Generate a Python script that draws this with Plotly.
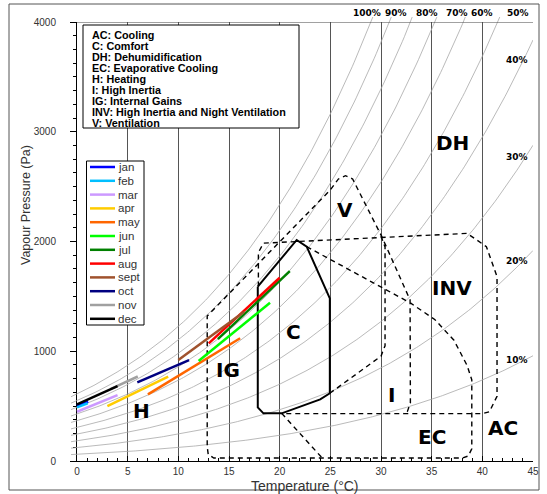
import numpy as np
import plotly.graph_objects as go

# ---------------- data ----------------
x_ticks = [0, 5, 10, 15, 20, 25, 30, 35, 40, 45]
y_ticks = [0, 1000, 2000, 3000, 4000]
rh_levels = [10, 20, 30, 40, 50, 60, 70, 80, 90, 100]
rh_curve_t = list(np.linspace(-0.6, 45, 231))

months = ["jan", "feb", "mar", "apr", "may", "jun", "jul", "aug", "sept", "oct", "nov", "dec"]
month_t0 = [0.0, 0.0, 0.0, 3.0, 7.0, 12.0, 13.9, 13.0, 10.0, 5.95, 3.3, 0.0]
month_p0 = [505, 489, 449, 501, 607, 911, 1110, 1072, 920, 717, 655, 516]
month_t1 = [1.1, 1.05, 4.0, 9.0, 16.1, 19.05, 21.0, 20.0, 16.5, 11.06, 6.0, 4.0]
month_p1 = [540, 526, 601, 768, 1118, 1442, 1730, 1670, 1360, 920, 770, 683]
month_colors = ["#0000FF", "#00BFFF", "#CC99FF", "#FFCC00", "#FF6600", "#00FF00",
                "#008000", "#FF0000", "#A0522D", "#000080", "#A0A0A0", "#000000"]

# comfort zone (solid)
comfort_t = [17.84, 21.68, 22.67, 24.95, 24.95, 24.0, 20.2, 18.4, 17.84, 17.84]
comfort_p = [1588, 2014, 1953, 1482, 617, 562, 434, 434, 489, 1588]

# dashed outline: evaporative cooling / internal gains / ventilation / inertia
outer_t = [22.67, 27.0, 32.9, 35.3, 37.2, 38.5, 38.96, 38.96, 38.6, 38.0, 13.5, 12.95, 12.85,
           12.85, 25.0, 25.8, 26.5, 27.2, 30.08, 32.87, 32.9, 32.6, 32.2]
outer_p = [1953, 1735, 1440, 1290, 1100, 870, 740, 110, 45, 27, 27, 60, 130,
           1321, 2470, 2570, 2600, 2570, 2044, 1467, 530, 450, 432]
# EC lower-left diagonal
ec_t = [20.2, 24.2]
ec_p = [434, 27]
# ventilation / inertia inner boundary
vb_t = [30.0, 30.4, 30.4, 30.0, 24.95]
vb_p = [2050, 1950, 1050, 955, 617]
# high inertia & night ventilation
inv_t = [17.9, 17.9, 18.4, 38.5, 40.4, 41.45, 41.45, 40.7, 40.0, 20.2]
inv_p = [1590, 1900, 1985, 2074, 1953, 1680, 590, 449, 432, 432]

zone_labels = ["DH", "V", "INV", "C", "IG", "I", "H", "EC", "AC"]
zone_label_t = [37.1, 26.4, 37.0, 21.4, 14.9, 31.0, 6.4, 35.0, 42.0]
zone_label_p = [2900, 2287, 1576, 1172, 829, 600, 452, 215, 301]

zone_descr = ["AC: Cooling", "C: Comfort", "DH: Dehumidification", "EC: Evaporative Cooling",
              "H: Heating", "I: High Inertia", "IG: Internal Gains",
              "INV: High Inertia and Night Ventilation", "V: Ventilation"]

top_rh_labels = ["100%", "90%", "80%", "70%", "60%", "50%"]
top_rh_t = [28.6, 31.5, 34.5, 37.5, 40.0, 43.5]
right_rh_labels = ["40%", "30%", "20%", "10%"]
right_rh_p = [3654, 2770, 1822, 920]

# ---------------- layout geometry (pixels) ----------------
W, H = 547, 494
ML, MR, MT, MB = 71, 14, 17, 33
PW, PH = W - ML - MR, H - MT - MB          # 462 x 444
AX_L, AX_T = 77, 22                        # main axis left / top pixel
x_dom0 = (AX_L - ML) / PW
y_dom1 = (H - MB - AX_T) / PH
px_per_t = (PW - (AX_L - ML)) / 45.0
x2_min = -(AX_L - ML) / px_per_t
y2_max = 4000 * PH / (H - MB - AX_T)


def px2paper_x(px):
    return (px - ML) / PW


def px2paper_y(py):
    return (H - MB - py) / PH


FONT = "Liberation Sans, Arial, sans-serif"
WIDE = "DejaVu Sans, Liberation Sans, sans-serif"

fig = go.Figure()

# anchor trace for main axes
fig.add_trace(go.Scatter(x=[0, 45], y=[0, 4000], mode="markers", marker=dict(opacity=0),
                         hoverinfo="skip", showlegend=False))


def psat(t):
    t = np.asarray(t, dtype=float)
    return 610.94 * np.exp(17.625 * t / (t + 243.04))


for rh in rh_levels:
    fig.add_trace(go.Scatter(x=rh_curve_t, y=list(rh / 100.0 * psat(rh_curve_t)), mode="lines",
                             line=dict(color="#A8A8A8", width=0.8), xaxis="x2", yaxis="y2",
                             hoverinfo="skip", showlegend=False))

DASH = dict(color="black", width=1.4, dash="5px,4px")
for tx, py in [(outer_t, outer_p), (ec_t, ec_p), (vb_t, vb_p), (inv_t, inv_p)]:
    fig.add_trace(go.Scatter(x=tx, y=py, mode="lines", line=DASH, xaxis="x2", yaxis="y2",
                             hoverinfo="skip", showlegend=False))

fig.add_trace(go.Scatter(x=comfort_t, y=comfort_p, mode="lines",
                         line=dict(color="black", width=2), xaxis="x2", yaxis="y2",
                         hoverinfo="skip", showlegend=False))

for i, m in enumerate(months):
    fig.add_trace(go.Scatter(x=[month_t0[i], month_t1[i]], y=[month_p0[i], month_p1[i]],
                             mode="lines", name=m, line=dict(color=month_colors[i], width=2.5),
                             xaxis="x2", yaxis="y2", showlegend=False))

annotations = []
shapes = []


def ann(**kw):
    base = dict(showarrow=False, xanchor="center", yanchor="middle", borderpad=0)
    base.update(kw)
    annotations.append(base)


# zone labels
for lab, t, p in zip(zone_labels, zone_label_t, zone_label_p):
    ann(x=t, y=p, xref="x", yref="y", text=lab,
        font=dict(family=WIDE, size=20, color="black", weight="bold"))

# RH labels
for lab, t in zip(top_rh_labels, top_rh_t):
    ann(x=t, y=px2paper_y(13), xref="x", yref="paper", text=lab,
        font=dict(family=WIDE, size=9, color="black", weight="bold"))
for lab, p in zip(right_rh_labels, right_rh_p):
    ann(x=43.4, y=p, xref="x", yref="y", text=lab,
        font=dict(family=WIDE, size=9, color="black", weight="bold"))

# zone description box
shapes.append(dict(type="rect", xref="paper", yref="paper",
                   x0=px2paper_x(83), x1=px2paper_x(299), y0=px2paper_y(128), y1=px2paper_y(25),
                   line=dict(color="black", width=1), fillcolor="white", layer="above"))
for i, txt in enumerate(zone_descr):
    ann(x=px2paper_x(91), y=px2paper_y(35 + 11 * i), xref="paper", yref="paper",
        text=txt, xanchor="left",
        font=dict(family=FONT, size=10.8, color="black", weight="bold"))

# month legend box
shapes.append(dict(type="rect", xref="paper", yref="paper",
                   x0=px2paper_x(86.5), x1=px2paper_x(144), y0=px2paper_y(325), y1=px2paper_y(161),
                   line=dict(color="black", width=1), fillcolor="white", layer="above"))
for i, m in enumerate(months):
    yy = px2paper_y(167 + 13.8 * i)
    shapes.append(dict(type="line", xref="paper", yref="paper", x0=px2paper_x(90), x1=px2paper_x(115),
                       y0=yy, y1=yy, line=dict(color=month_colors[i], width=2.5), layer="above"))
    ann(x=px2paper_x(117), y=yy, xref="paper", yref="paper", text=m, xanchor="left",
        font=dict(family=FONT, size=11.5, color="#333333"))

# top border of plot
shapes.append(dict(type="line", xref="x", yref="y", x0=0, x1=45, y0=4000, y1=4000,
                   line=dict(color="#444444", width=1), layer="above"))
# outer frame
shapes.append(dict(type="rect", xref="paper", yref="paper",
                   x0=px2paper_x(9), x1=px2paper_x(539), y0=px2paper_y(490), y1=px2paper_y(4),
                   line=dict(color="#555555", width=1), layer="below"))

# axis titles
ann(x=px2paper_x(305), y=px2paper_y(485.5), xref="paper", yref="paper",
    text="Temperature (°C)", font=dict(family=FONT, size=14, color="#333333"))
ann(x=px2paper_x(26), y=px2paper_y(205), xref="paper", yref="paper",
    text="Vapour Pressure (Pa)", textangle=-90,
    font=dict(family=FONT, size=12.5, color="#333333"))

fig.update_layout(
    width=W, height=H,
    margin=dict(l=ML, r=MR, t=MT, b=MB, pad=0, autoexpand=False),
    paper_bgcolor="white", plot_bgcolor="rgba(0,0,0,0)",
    showlegend=False,
    xaxis=dict(domain=[x_dom0, 1], range=[0, 45], anchor="y", tickvals=x_ticks,
               ticks="inside", ticklen=5, tickcolor="black", showline=True, linecolor="black",
               linewidth=1, showgrid=True, gridcolor="#555555", gridwidth=1, zeroline=False,
               minor=dict(ticks="inside", ticklen=3, dtick=1, tickcolor="black", showgrid=False),
               tickfont=dict(family=FONT, size=10, color="#333333"), ticklabelstandoff=1,
               automargin=False, fixedrange=True),
    yaxis=dict(domain=[0, y_dom1], range=[0, 4000], anchor="x", tickvals=y_ticks,
               ticks="outside", ticklen=6, tickcolor="black", showline=True, linecolor="black",
               linewidth=1, showgrid=False, zeroline=False,
               minor=dict(ticks="outside", ticklen=3, dtick=125, tickcolor="black", showgrid=False),
               tickfont=dict(family=FONT, size=10, color="#333333"), ticklabelstandoff=12,
               automargin=False, fixedrange=True),
    xaxis2=dict(domain=[0, 1], range=[x2_min, 45], anchor="y2", visible=False, fixedrange=True),
    yaxis2=dict(domain=[0, 1], range=[0, y2_max], anchor="x2", visible=False, fixedrange=True),
    annotations=annotations,
    shapes=shapes,
)

fig.write_html("out.html", config={"displayModeBar": False},
               post_script="document.body.style.margin='0px';document.body.style.overflow='hidden';")
